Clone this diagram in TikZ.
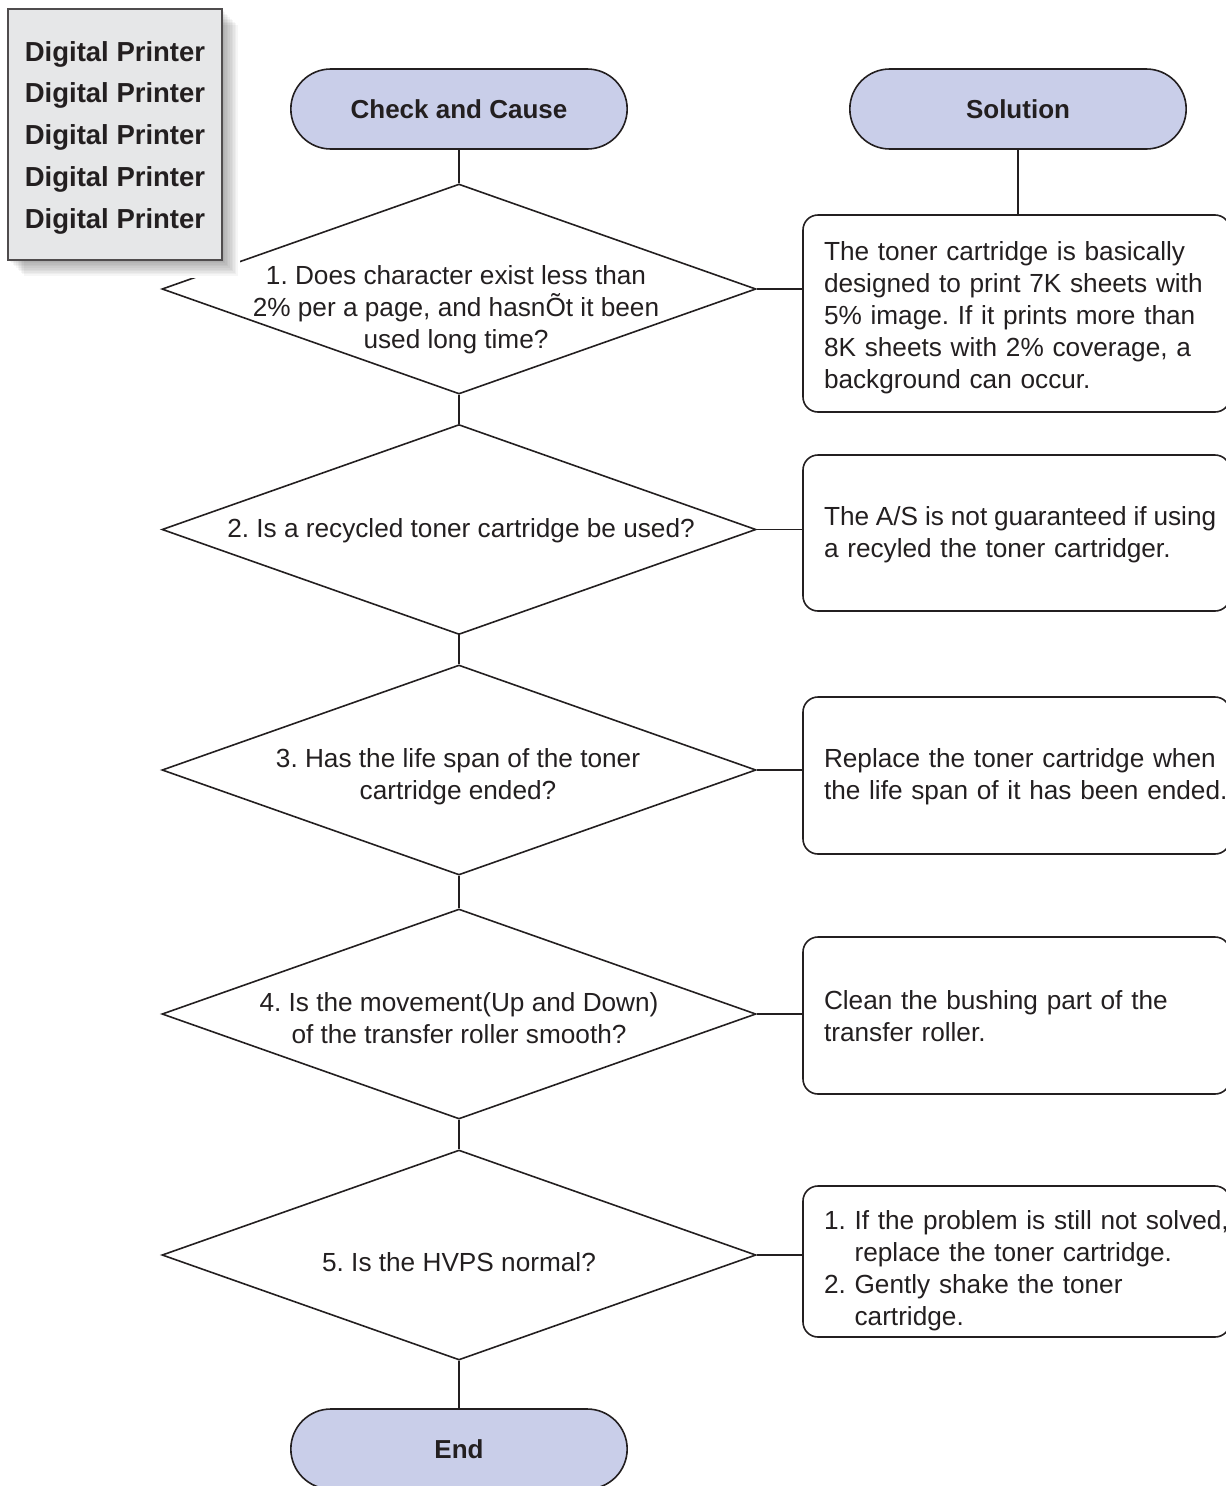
\documentclass[tikz,border=0pt]{standalone}
\usepackage{fontspec}
\setmainfont{Liberation Sans}
\usetikzlibrary{shapes.geometric, shapes.misc, positioning}

\definecolor{inkgray}{RGB}{35,31,32}
\definecolor{termfill}{RGB}{201,206,233}
\definecolor{notefill}{RGB}{230,231,232}

\frenchspacing
% taller first line pushes a block of text down inside its node
\newcommand{\topgap}[1]{\rule{0pt}{#1}}

\tikzset{
    terminal/.style={
        rounded rectangle,
        draw=inkgray,
        line width=1.6pt,
        fill=termfill,
        minimum width=343pt,
        minimum height=80pt,
        text=inkgray,
        font=\fontsize{26}{31}\selectfont\bfseries
    },
    decision/.style={
        diamond,
        draw=inkgray,
        line width=1.6pt,
        minimum width=594pt,
        minimum height=210pt,
        inner sep=0pt
    },
    qtext/.style={
        align=center,
        text=inkgray,
        font=\fontsize{26.2}{32}\selectfont
    },
    answer/.style={
        draw=inkgray,
        line width=1.6pt,
        rounded corners=15pt,
        text width=385pt,
        inner xsep=21pt,
        inner ysep=0pt,
        align=left,
        text=inkgray,
        font=\fontsize{26.2}{32}\selectfont
    },
    notebox/.style={
        draw=inkgray!80,
        line width=1.2pt,
        fill=notefill,
        minimum width=214pt,
        minimum height=251pt,
        align=center,
        text=inkgray,
        font=\fontsize{27.5}{41.75}\selectfont\bfseries
    },
    link/.style={draw=inkgray, line width=1.6pt}
}

\begin{document}
\begin{tikzpicture}[x=1pt, y=-1pt]
    \useasboundingbox (0,0) rectangle (1226,1486);
    \clip (0,0) rectangle (1226,1486);

    % headers
    \node[terminal] (cause) at (459,109) {Check and Cause};
    \node[terminal] (sol) at (1018,109) {Solution};

    % checks
    \node[decision] (d1) at (459,289) {};
    \node[decision] (d2) at (459,529.5) {};
    \node[decision] (d3) at (459,770) {};
    \node[decision] (d4) at (459,1014) {};
    \node[decision] (d5) at (459,1255) {};

    \node[qtext] (q1) at (456,310) {1. Does character exist less than\\2\% per a page, and hasnÕt it been\\used long time?};
    \node[qtext] (q2) at (461,531) {2. Is a recycled toner cartridge be used?};
    \node[qtext] (q3) at (458,777) {3. Has the life span of the toner\\cartridge ended?};
    \node[qtext] (q4) at (459,1018) {4. Is the movement(Up and Down)\\of the transfer roller smooth?};
    \node[qtext] (q5) at (459,1262) {5. Is the HVPS normal?};

    \node[terminal] (fin) at (459,1449) {End};

    % solutions
    \node[answer, minimum height=197pt] (b1) at (1016.5,313.5) {\topgap{27pt}The toner cartridge is basically\\designed to print 7K sheets with\\5\% image. If it prints more than\\8K sheets with 2\% coverage, a\\background can occur.};
    \node[answer, minimum height=156pt] (b2) at (1016.5,533) {\topgap{23pt}{\spaceskip=0.262em\mbox{The A/S is not guaranteed if using}}\\a recyled the toner cartridger.};
    \node[answer, minimum height=157pt] (b3) at (1016.5,775.5) {\topgap{21pt}\mbox{Replace the toner cartridge when}\\\mbox{the life span of it has been ended.}};
    \node[answer, minimum height=157pt] (b4) at (1016.5,1015.5) {\topgap{21pt}Clean the bushing part of the\\transfer roller.};
    \node[answer, minimum height=151pt] (b5) at (1016.5,1261.5) {\topgap{37pt}\mbox{1. If the problem is still not solved,}\\\phantom{1.} replace the toner cartridge.\\2. Gently shake the toner\\\phantom{2.} cartridge.};

    % connectors
    \draw[link] (cause) -- (d1);
    \draw[link] (d1) -- (d2);
    \draw[link] (d2) -- (d3);
    \draw[link] (d3) -- (d4);
    \draw[link] (d4) -- (d5);
    \draw[link] (d5) -- (fin);
    \draw[link] (sol.south) -- (sol.south |- b1.north);
    \draw[link] (d1.east) -- (d1.east -| b1.west);
    \draw[link] (d2.east) -- (d2.east -| b2.west);
    \draw[link] (d3.east) -- (d3.east -| b3.west);
    \draw[link] (d4.east) -- (d4.east -| b4.west);
    \draw[link] (d5.east) -- (d5.east -| b5.west);

    % logo box with soft shadow
    \coordinate (lt) at (8,9);
    \coordinate (rb) at (222,260);
    \fill[white] ([shift={(2,2)}]lt) rectangle ([shift={(18,18)}]rb);
    \foreach \s in {1,...,10}
        \fill[black, opacity=0.035] ([shift={(\s*1.6,\s*1.6)}]lt) rectangle ([shift={(\s*1.6,\s*1.6)}]rb);
    \node[notebox] (logo) at (115,134.5) {\topgap{26pt}Digital Printer\\Digital Printer\\Digital Printer\\Digital Printer\\Digital Printer};
\end{tikzpicture}
\end{document}
